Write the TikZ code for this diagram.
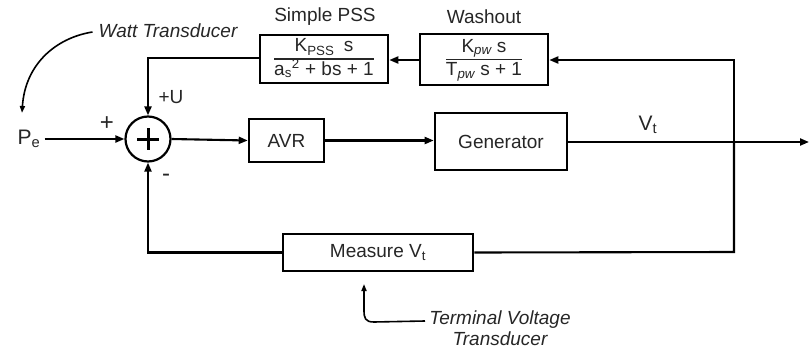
\documentclass[tikz,border=0pt]{standalone}
\usepackage{fontspec}
\setmainfont{Liberation Sans}
\usetikzlibrary{arrows.meta}
\begin{document}
\begin{tikzpicture}[x=1pt,y=-1pt,
  lbl/.style={font=\fontsize{19}{22}\selectfont, text=black!85, inner sep=0pt},
  note/.style={font=\fontsize{19}{21}\selectfont\itshape, text=black!85, inner sep=0pt, align=center},
  blk/.style={draw, line width=2.6pt, inner sep=0pt, font=\fontsize{19}{22}\selectfont, text=black!85},
  wire/.style={line width=2.1pt},
  arr/.style={wire, -{Triangle[length=9pt,width=7pt]}},
  thin/.style={line width=1.6pt, -{Triangle[length=7pt,width=5pt]}},
]
\useasboundingbox (0,0) rectangle (809,348);
\arrayrulewidth=1.2pt
% blocks
\node[draw, circle, line width=2.2pt, minimum size=45pt, inner sep=0pt] (sum) at (148,139) {};
\draw[line width=3pt] (sum.center) ++(-11,0) -- ++(22,0);
\draw[line width=3pt] (sum.center) ++(0,-11) -- ++(0,22);
\node[blk, minimum width=75pt, minimum height=43pt] (avr) at (286.5,140.5) {AVR};
\node[blk, minimum width=132pt, minimum height=57pt] (gen) at (501,141.5) {Generator};
\node[blk, minimum width=128pt, minimum height=48pt] (pss) at (324,59)
  {\begin{tabular}{@{}c@{}}K\textsubscript{PSS}\enspace s\\[0pt]\hline a\textsubscript{s}\textsuperscript{2} + bs + 1\end{tabular}};
\node[blk, minimum width=128pt, minimum height=51pt] (wash) at (484,59.5)
  {\begin{tabular}{@{}c@{}}K\textsubscript{\itshape pw} s\\[0pt]\hline T\textsubscript{\itshape pw} s + 1\end{tabular}};
\node[blk, minimum width=190pt, minimum height=37pt] (meas) at (378,252.5) {Measure V\textsubscript{t}};
% labels
\node[lbl] (pssT) at (325,17) {Simple PSS};
\node[lbl] (washT) at (484,17) {Washout};
\node[lbl, font=\fontsize{21}{22}\selectfont] (pe) at (29,139) {P\textsubscript{e}};
\node[lbl, font=\fontsize{24}{24}\selectfont] (plus) at (107,124) {+};
\node[lbl] (pu) at (171,97) {+U};
\node[lbl, font=\fontsize{24}{24}\selectfont] (minus) at (166,178) {-};
\node[lbl, font=\fontsize{21}{22}\selectfont] (vt) at (648,125) {V\textsubscript{t}};
\node[note] (watt) at (168,31) {Watt Transducer};
\node[note] (tvt) at (500,328) {Terminal Voltage\\Transducer};
% coordinates
\coordinate (out) at (809,142);
\coordinate (split) at (734,142);
\coordinate (tvs) at (425,321);
\coordinate (tvtip) at (364,284);
\coordinate (wtip) at (22,113);
% connectors
\draw[arr] (pe.east) ++(4,0) -- (sum.west);
\draw[arr] (sum.east) -- (avr.west);
\draw[arr] (avr.east) -- (gen.west |- avr.east);
\draw[arr] (gen.east |- out) -- (out);
\draw[arr] (split) -- (734,60) -- (wash.east |- 0,60);
\draw[arr] (wash.west |- 0,60) -- (pss.east |- 0,60);
\draw[arr] (pss.west |- 0,58) -- (148,58) -- (sum.north);
\draw[wire] (split) -- (734,252) -- (meas.east);
\draw[arr] (meas.west) -- (148,252.5) -- (sum.south);
% annotation arrows
\draw[thin] (watt.west) ++(-6,1) .. controls (55,38) and (25,65) .. (wtip);
\draw[thin] (tvs) -- (374,322) .. controls (365,322) and (364,318) .. (364,310) -- (tvtip);
\end{tikzpicture}
\end{document}
